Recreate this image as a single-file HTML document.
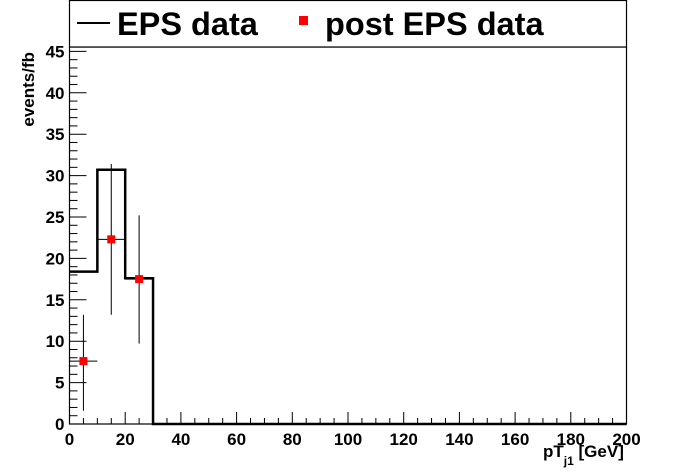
<!DOCTYPE html>
<html><head><meta charset="utf-8"><style>
html,body{margin:0;padding:0;background:#fff;}
svg{display:block;font-family:"Liberation Sans",Arial,sans-serif;font-weight:bold;}
</style></head><body>
<svg id="chart" width="696" height="472" viewBox="0 0 696 472" xmlns="http://www.w3.org/2000/svg">
<rect width="696" height="472" fill="#fff"/>
<g id="axes"></g>
<g id="marks"></g>
<g>
<rect x="69.5" y="0.5" width="557" height="46.5" fill="#fff" stroke="#000" stroke-width="1.2"/>
<line x1="77" y1="23" x2="110" y2="23" stroke="#000" stroke-width="2"/>
<text x="117" y="35" font-size="32.5">EPS data</text>
<rect x="299" y="16" width="9" height="9" fill="#f00"/>
<text x="325" y="35" font-size="32.5">post EPS data</text>
</g>
<text transform="translate(34,52) rotate(-90)" text-anchor="end" font-size="17" x="0" y="0">events/fb</text>
<text x="543" y="457" font-size="17">pT<tspan font-size="12" dy="8">j1</tspan><tspan dy="-8"> [GeV]</tspan></text>
</svg>
<script>
const binEdges=[0,10,20,30,40,200];
const epsValues=[18.4,30.7,17.6,0,0];
const postX=[5,15,25];
const postY=[7.6,22.3,17.5];
const postErrLow=[6.0,9.1,7.8];
const postErrHigh=[5.6,9.1,7.7];
const xTicks=[0,20,40,60,80,100,120,140,160,180,200];
const yTicks=[0,5,10,15,20,25,30,35,40,45];
const NS="http://www.w3.org/2000/svg";
const X0=69.5,X1=626.5,Y0=424,YTOP=47;
const xs=v=>X0+(v-0)/(200-0)*(X1-X0);
const ys=v=>Y0-v*8.28;
const axes=document.getElementById('axes'),marks=document.getElementById('marks');
function mk(tag,attrs,parent){const e=document.createElementNS(NS,tag);for(const k in attrs)e.setAttribute(k,attrs[k]);parent.appendChild(e);return e;}
let f=mk('rect',{x:X0,y:YTOP,width:X1-X0,height:Y0-YTOP,fill:'none',stroke:'#000','stroke-width':1.2},axes);


for(let v=0;v<=45;v++){const y=ys(v);const maj=v%5===0;
 let t=mk('line',{x1:X0,x2:X0+(maj?17:8),y1:y,y2:y,stroke:'#000','stroke-width':1},axes);
 
 }
yTicks.forEach(v=>{let t=mk('text',{x:X0-5,y:ys(v)+6,'text-anchor':'end','font-size':17},axes);t.textContent=v;
 
 });
for(let v=0;v<=200;v+=5){const x=xs(v);const maj=v%20===0;
 let t=mk('line',{x1:x,x2:x,y1:Y0,y2:Y0-(maj?12:6),stroke:'#000','stroke-width':1},axes);
 
 }
xTicks.forEach(v=>{let t=mk('text',{x:xs(v),y:Y0+21,'text-anchor':'middle','font-size':17},axes);t.textContent=v;
 
 });
let d='M'+xs(binEdges[0])+','+ys(epsValues[0]);
for(let i=0;i<epsValues.length;i++){d+=' H'+xs(binEdges[i+1]);if(i+1<epsValues.length)d+=' V'+ys(epsValues[i+1]);}
let h=mk('path',{d:d,fill:'none',stroke:'#000','stroke-width':2.5},marks);


postX.forEach((x,i)=>{const px=xs(x),py=ys(postY[i]);
 let e=mk('path',{d:`M${px},${ys(postY[i]-postErrLow[i])}V${ys(postY[i]+postErrHigh[i])}M${xs(x-5)},${py}H${xs(x+5)}`,stroke:'#000','stroke-width':1,fill:'none'},marks);
 
 
 let p=mk('rect',{x:px-4,y:py-4,width:8,height:8,fill:'#f00'},marks);
 
 });
</script>
</body></html>
